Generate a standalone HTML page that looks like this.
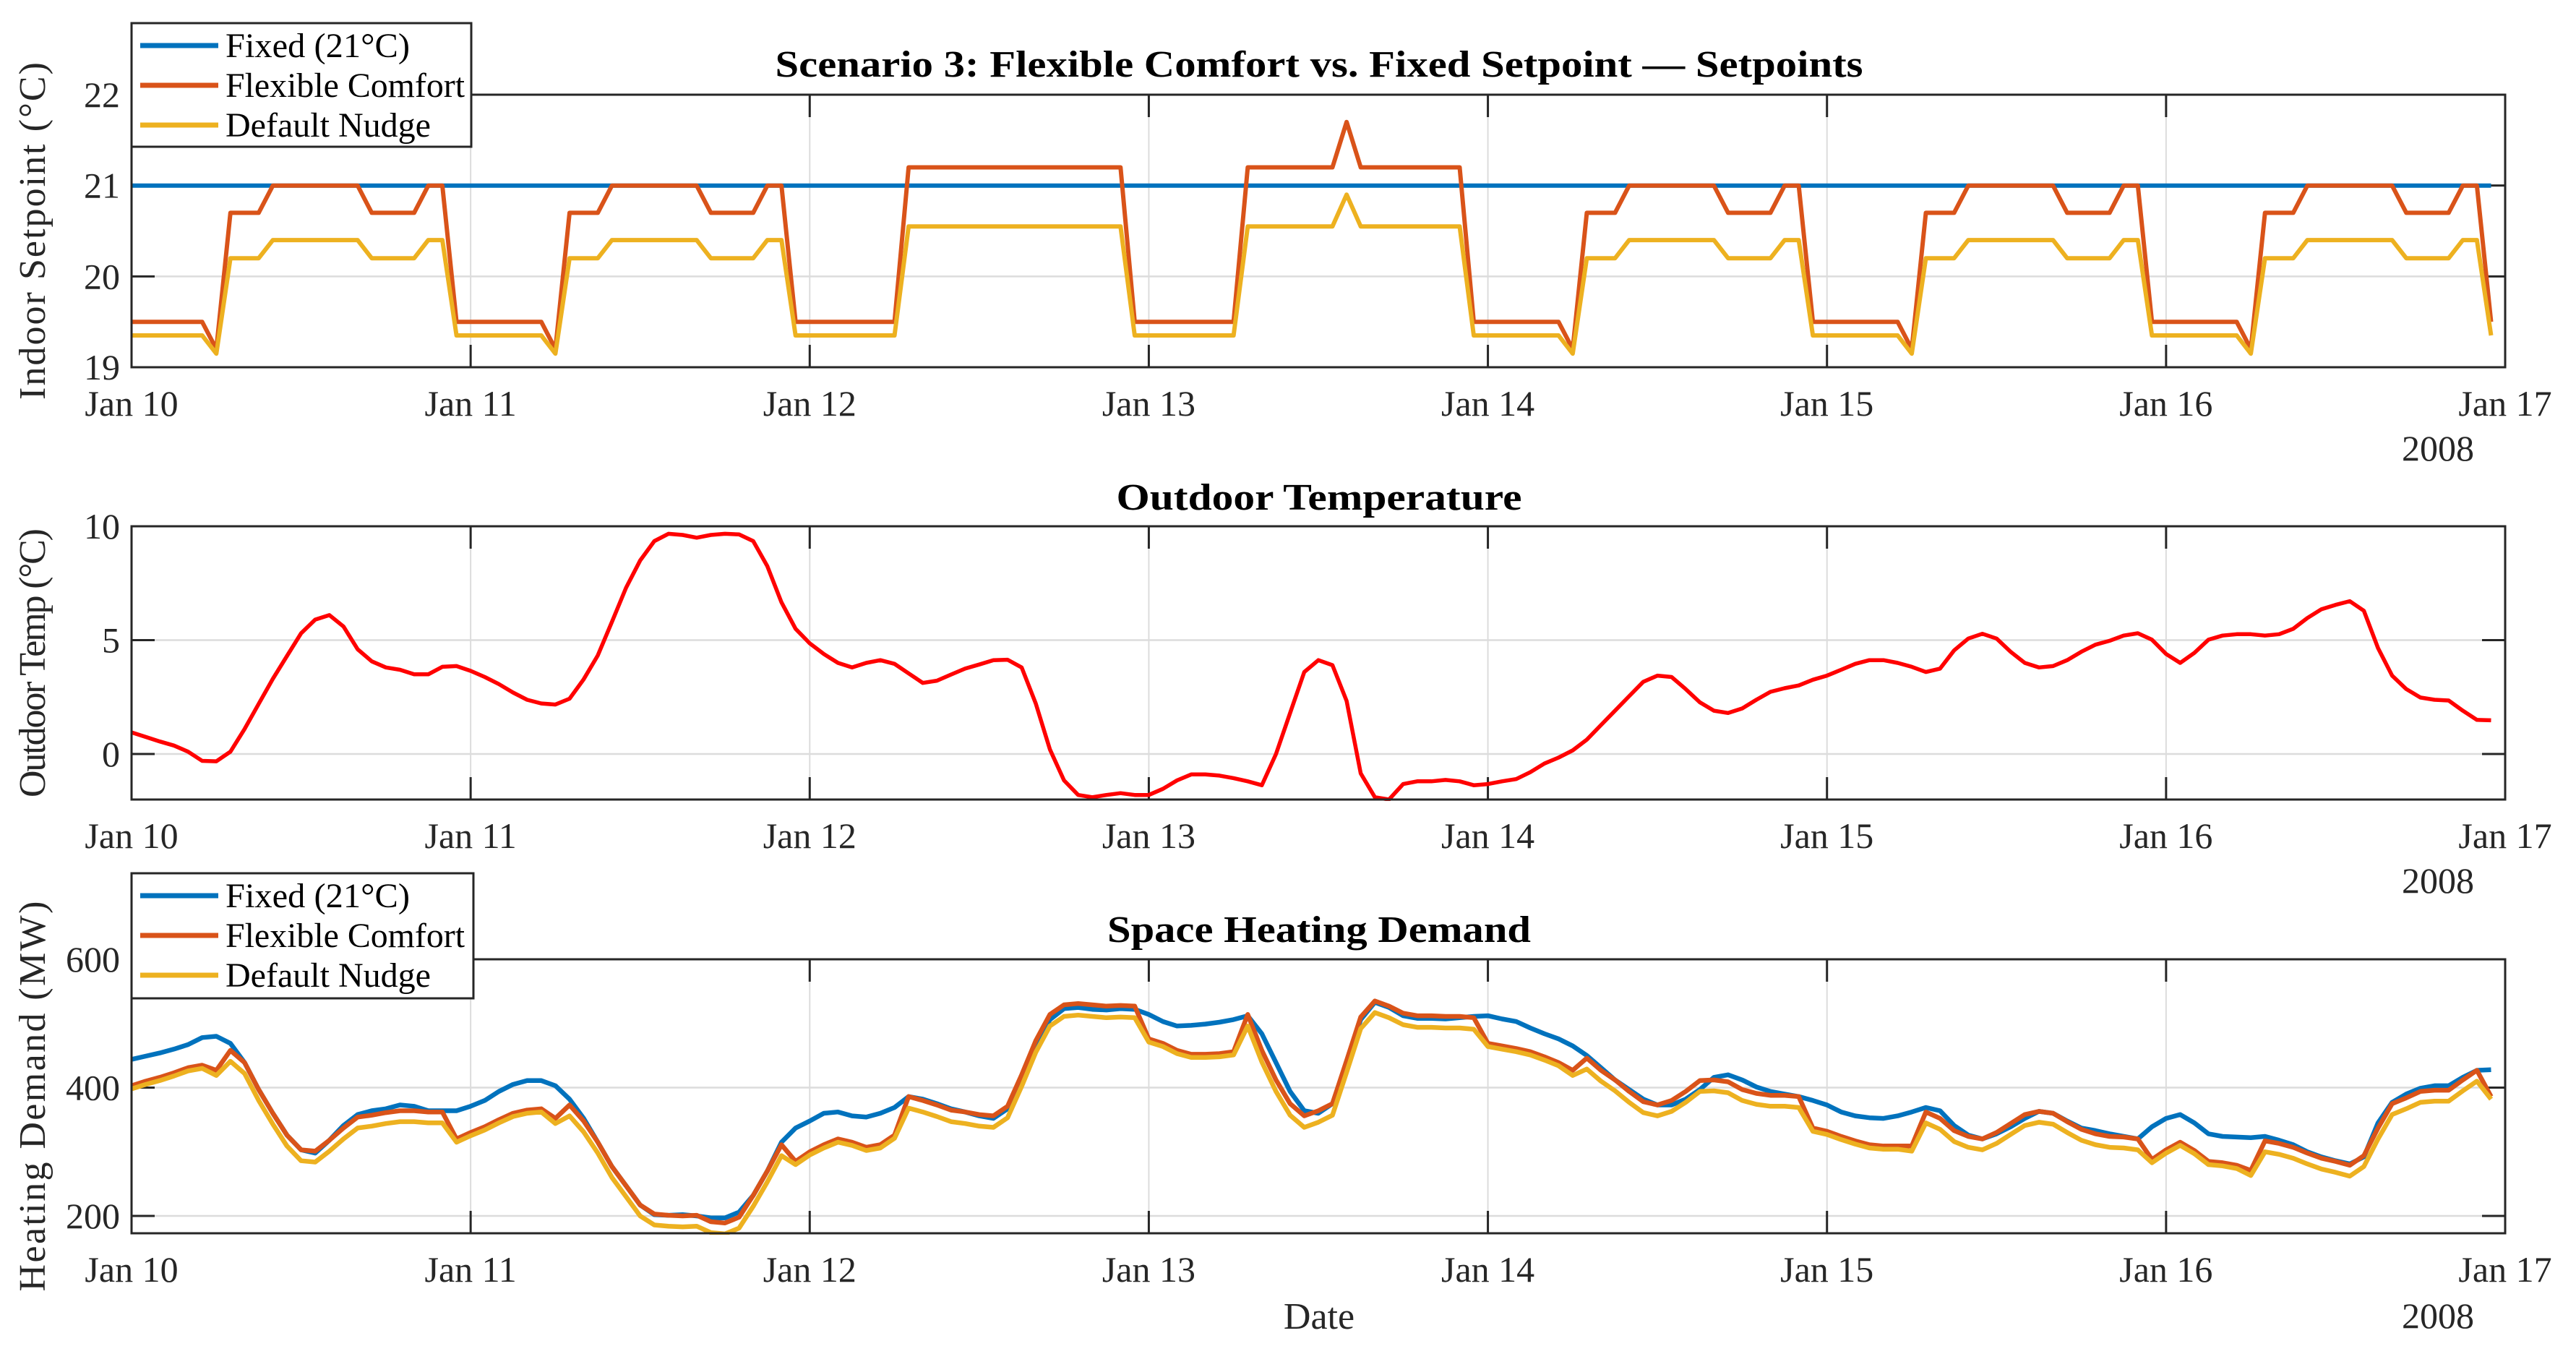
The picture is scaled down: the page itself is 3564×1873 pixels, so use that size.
<!DOCTYPE html>
<html>
<head>
<meta charset="utf-8">
<style>
html,body{margin:0;padding:0;background:#fff;}
svg{display:block;font-family:"Liberation Serif","Times New Roman",serif;}
</style>
</head>
<body>
<svg id="fig" xmlns="http://www.w3.org/2000/svg" width="3564" height="1873" viewBox="0 0 3564 1873"></svg>
<script>
// ---------- data ----------
const dayLabels = ['Jan 10','Jan 11','Jan 12','Jan 13','Jan 14','Jan 15','Jan 16','Jan 17'];
const setpointTicks = [19,20,21,22];
const outdoorTicks = [0,5,10];
const demandTicks = [200,400,600];

const fixedSetpoint = [
21,21,21,21,21,21,21,21,21,21,21,21,21,21,21,21,21,21,21,21,21,21,21,21,
21,21,21,21,21,21,21,21,21,21,21,21,21,21,21,21,21,21,21,21,21,21,21,21,
21,21,21,21,21,21,21,21,21,21,21,21,21,21,21,21,21,21,21,21,21,21,21,21,
21,21,21,21,21,21,21,21,21,21,21,21,21,21,21,21,21,21,21,21,21,21,21,21,
21,21,21,21,21,21,21,21,21,21,21,21,21,21,21,21,21,21,21,21,21,21,21,21,
21,21,21,21,21,21,21,21,21,21,21,21,21,21,21,21,21,21,21,21,21,21,21,21,
21,21,21,21,21,21,21,21,21,21,21,21,21,21,21,21,21,21,21,21,21,21,21,21];
const flexSetpoint = [
19.5,19.5,19.5,19.5,19.5,19.5,19.2,20.7,20.7,20.7,21,21,21,21,21,21,21,20.7,20.7,20.7,20.7,21,21,19.5,
19.5,19.5,19.5,19.5,19.5,19.5,19.2,20.7,20.7,20.7,21,21,21,21,21,21,21,20.7,20.7,20.7,20.7,21,21,19.5,
19.5,19.5,19.5,19.5,19.5,19.5,19.5,21.2,21.2,21.2,21.2,21.2,21.2,21.2,21.2,21.2,21.2,21.2,21.2,21.2,21.2,21.2,21.2,19.5,
19.5,19.5,19.5,19.5,19.5,19.5,19.5,21.2,21.2,21.2,21.2,21.2,21.2,21.2,21.7,21.2,21.2,21.2,21.2,21.2,21.2,21.2,21.2,19.5,
19.5,19.5,19.5,19.5,19.5,19.5,19.2,20.7,20.7,20.7,21,21,21,21,21,21,21,20.7,20.7,20.7,20.7,21,21,19.5,
19.5,19.5,19.5,19.5,19.5,19.5,19.2,20.7,20.7,20.7,21,21,21,21,21,21,21,20.7,20.7,20.7,20.7,21,21,19.5,
19.5,19.5,19.5,19.5,19.5,19.5,19.2,20.7,20.7,20.7,21,21,21,21,21,21,21,20.7,20.7,20.7,20.7,21,21,19.5];
const nudgeSetpoint = [
19.35,19.35,19.35,19.35,19.35,19.35,19.15,20.2,20.2,20.2,20.4,20.4,20.4,20.4,20.4,20.4,20.4,20.2,20.2,20.2,20.2,20.4,20.4,19.35,
19.35,19.35,19.35,19.35,19.35,19.35,19.15,20.2,20.2,20.2,20.4,20.4,20.4,20.4,20.4,20.4,20.4,20.2,20.2,20.2,20.2,20.4,20.4,19.35,
19.35,19.35,19.35,19.35,19.35,19.35,19.35,20.55,20.55,20.55,20.55,20.55,20.55,20.55,20.55,20.55,20.55,20.55,20.55,20.55,20.55,20.55,20.55,19.35,
19.35,19.35,19.35,19.35,19.35,19.35,19.35,20.55,20.55,20.55,20.55,20.55,20.55,20.55,20.9,20.55,20.55,20.55,20.55,20.55,20.55,20.55,20.55,19.35,
19.35,19.35,19.35,19.35,19.35,19.35,19.15,20.2,20.2,20.2,20.4,20.4,20.4,20.4,20.4,20.4,20.4,20.2,20.2,20.2,20.2,20.4,20.4,19.35,
19.35,19.35,19.35,19.35,19.35,19.35,19.15,20.2,20.2,20.2,20.4,20.4,20.4,20.4,20.4,20.4,20.4,20.2,20.2,20.2,20.2,20.4,20.4,19.35,
19.35,19.35,19.35,19.35,19.35,19.35,19.15,20.2,20.2,20.2,20.4,20.4,20.4,20.4,20.4,20.4,20.4,20.2,20.2,20.2,20.2,20.4,20.4,19.35];

const outdoorTemp = [
0.95,0.75,0.55,0.37,0.1,-0.3,-0.32,0.1,1.1,2.2,3.3,4.3,5.3,5.9,6.1,5.6,4.6,4.07,3.8,3.7,3.5,3.5,3.83,3.86,
3.65,3.38,3.07,2.7,2.38,2.22,2.17,2.43,3.28,4.33,5.8,7.3,8.5,9.35,9.67,9.62,9.5,9.62,9.67,9.64,9.35,8.25,6.66,5.5,
4.86,4.39,4.0,3.8,4.0,4.12,3.96,3.54,3.12,3.22,3.49,3.75,3.93,4.12,4.14,3.8,2.22,0.2,-1.16,-1.8,-1.9,-1.8,-1.72,-1.8,
-1.8,-1.53,-1.16,-0.9,-0.9,-0.95,-1.06,-1.2,-1.37,0,1.8,3.6,4.12,3.9,2.33,-0.85,-1.9,-2.0,-1.32,-1.2,-1.2,-1.14,-1.2,-1.37,
-1.32,-1.2,-1.1,-0.8,-0.42,-0.16,0.16,0.63,1.27,1.9,2.54,3.17,3.44,3.38,2.85,2.27,1.9,1.8,2.0,2.38,2.73,2.89,3.01,3.26,
3.44,3.7,3.96,4.12,4.12,4.0,3.83,3.6,3.75,4.55,5.07,5.28,5.07,4.49,4.0,3.8,3.86,4.12,4.49,4.8,4.97,5.2,5.3,5.02,
4.39,4.0,4.44,5.02,5.2,5.26,5.26,5.2,5.26,5.5,5.97,6.36,6.55,6.71,6.29,4.65,3.44,2.85,2.48,2.38,2.35,1.9,1.5,1.48];

const fixedDemand = [
444,449,454,460,467,478,480,469,439,397,360,326,303,298,318,341,358,364,367,373,371,364,364,364,
371,380,394,405,411,411,403,382,352,315,277,247,217,202,201,202,200,197,197,206,232,270,315,337,
348,360,362,356,354,360,369,386,382,375,367,362,356,352,367,412,465,506,523,525,522,521,523,522,
514,503,496,497,499,502,506,512,484,439,394,364,360,375,439,506,533,525,512,508,508,507,509,511,
512,507,503,493,484,476,465,450,431,412,397,382,373,373,382,397,416,420,412,401,394,390,386,380,
373,362,356,353,352,356,362,369,364,341,326,320,328,339,352,363,360,348,337,333,328,324,320,339,
352,358,345,328,324,323,322,324,318,311,300,292,286,281,292,345,377,390,399,403,403,416,427,428];
const flexDemand = [
403,410,416,423,431,435,427,458,439,397,360,326,303,301,318,337,354,357,361,364,364,362,362,320,
330,339,350,360,365,367,352,373,348,315,277,247,217,203,201,200,201,191,189,198,232,270,311,285,
300,311,320,315,307,311,326,386,380,373,365,362,358,356,371,420,473,514,529,531,529,527,528,527,
476,469,458,452,452,453,456,514,458,412,375,356,364,375,442,510,535,527,516,512,512,511,511,509,
469,465,461,456,448,439,427,446,427,412,394,378,373,380,394,411,412,409,397,391,388,388,386,337,
332,324,317,311,309,309,309,362,352,333,324,320,330,344,358,363,360,347,335,328,324,323,320,288,
303,315,302,285,283,279,271,317,313,307,298,290,285,279,294,337,375,384,394,396,396,412,427,386];
const nudgeDemand = [
398,405,411,418,426,430,419,441,422,380,343,309,286,284,301,320,337,340,344,347,347,345,345,315,
325,334,345,355,360,362,344,356,331,298,260,230,200,186,184,183,184,174,172,181,215,253,294,280,
295,306,315,310,302,306,321,368,362,355,347,344,340,338,353,402,455,496,511,513,511,509,510,509,
471,464,453,447,447,448,451,496,440,394,357,338,346,357,424,492,517,509,498,494,494,493,493,491,
464,460,456,451,443,434,419,429,410,395,377,361,356,363,377,394,395,392,380,374,371,371,369,332,
327,319,312,306,304,304,301,345,335,316,307,303,313,327,341,346,343,330,318,311,307,306,303,283,
298,310,297,280,278,274,263,300,296,290,281,273,268,262,277,320,358,367,377,379,379,395,410,382];

// ---------- layout ----------
const NS = 'http://www.w3.org/2000/svg';
const svg = document.getElementById('fig');
const X0 = 182, X1 = 3466, NH = 168;
const C_BLUE = '#0072BD', C_ORANGE = '#D95319', C_YELLOW = '#EDB120';
const panels = [
  {key:'setpoint', top:131, bottom:508, min:19, max:22, ticks:setpointTicks, title:'Scenario 3: Flexible Comfort vs. Fixed Setpoint \u2014 Setpoints', titleY:106, titleW:1505, ylabel:'Indoor Setpoint (\u00B0C)', ylabelLen:467, tickY:575, yearY:637},
  {key:'outdoor', top:728, bottom:1106, min:-2, max:10, ticks:outdoorTicks, title:'Outdoor Temperature', titleY:705, titleW:561, ylabel:'Outdoor Temp (\u00B0C)', ylabelLen:372, tickY:1173, yearY:1235},
  {key:'demand', top:1327, bottom:1706, min:173, max:600, ticks:demandTicks, title:'Space Heating Demand', titleY:1303, titleW:586, ylabel:'Heating Demand (MW)', ylabelLen:540, tickY:1773, yearY:1837}
];
function xScale(h){ return X0 + h*(X1-X0)/NH; }
function yScale(v,p){ return p.top + (p.max - v)/(p.max - p.min)*(p.bottom - p.top); }
function el(tag, attrs, parent){
  const e = document.createElementNS(NS, tag);
  for (const k in attrs) e.setAttribute(k, attrs[k]);
  (parent||svg).appendChild(e);
  return e;
}

function drawPanel(p){
  const g = el('g', {});
  
  
  const bg = el('rect', {x:X0, y:p.top, width:X1-X0, height:p.bottom-p.top, fill:'#fff'}, g);
  
  
  for (let d=1; d<dayLabels.length-1; d++){
    const x = xScale(d*24);
    const gl = el('line', {x1:x, x2:x, y1:p.top, y2:p.bottom, stroke:'#dcdcdc', 'stroke-width':2}, g);
    
    
  }
  p.ticks.forEach(t=>{
    const y = yScale(t,p);
    if (y > p.top+1 && y < p.bottom-1){
      const gl = el('line', {x1:X0, x2:X1, y1:y, y2:y, stroke:'#dcdcdc', 'stroke-width':2.5}, g);
      
      
    }
    const lt = el('line', {x1:X0, x2:X0+32, y1:y, y2:y, stroke:'#262626', 'stroke-width':3}, g);
    
    
    const rt = el('line', {x1:X1-32, x2:X1, y1:y, y2:y, stroke:'#262626', 'stroke-width':3}, g);
    
    
    const tl = el('text', {x:166, y:y+17, 'text-anchor':'end', 'font-size':50, fill:'#262626'}, g);
    tl.textContent = String(t);
    
    
  });
  dayLabels.forEach((lab,d)=>{
    const x = xScale(d*24);
    if (d>0 && d<dayLabels.length-1){
      const bt = el('line', {x1:x, x2:x, y1:p.bottom-31, y2:p.bottom, stroke:'#262626', 'stroke-width':3}, g);
      
      
      const tt = el('line', {x1:x, x2:x, y1:p.top, y2:p.top+31, stroke:'#262626', 'stroke-width':3}, g);
      
      
    }
    const tl = el('text', {x:x, y:p.tickY, 'text-anchor':'middle', 'font-size':50, fill:'#262626'}, g);
    tl.textContent = lab;
    
    
  });
  const yr = el('text', {x:3373, y:p.yearY, 'text-anchor':'middle', 'font-size':50, fill:'#262626'}, g);
  yr.textContent = '2008';
  
  
  const ti = el('text', {x:1825, y:p.titleY, 'text-anchor':'middle', 'font-size':52, 'font-weight':'bold', fill:'#000', textLength:p.titleW, lengthAdjust:'spacingAndGlyphs'}, g);
  ti.textContent = p.title;
  
  
  const cy = (p.top + p.bottom)/2;
  const yl = el('text', {x:0, y:0, 'text-anchor':'middle', 'font-size':52, fill:'#262626', transform:'translate(62,'+cy+') rotate(-90)', textLength:p.ylabelLen, lengthAdjust:'spacing'}, g);
  yl.textContent = p.ylabel;
  
  
  const cp = el('clipPath', {id:'clip-'+p.key}, g);
  el('rect', {x:X0, y:p.top-2, width:X1-X0, height:p.bottom-p.top+4}, cp);
  return g;
}

function drawSeries(g, p, values, color, width, name){
  let d = '';
  values.forEach((v,i)=>{ d += (i? 'L':'M') + xScale(i).toFixed(1) + ',' + yScale(v,p).toFixed(1); });
  const path = el('path', {d:d, fill:'none', stroke:color, 'stroke-width':width, 'stroke-linejoin':'round', 'clip-path':'url(#clip-'+p.key+')'}, g);
  
  
}

function drawFrame(g, p){
  const f = el('rect', {x:X0, y:p.top, width:X1-X0, height:p.bottom-p.top, fill:'none', stroke:'#262626', 'stroke-width':3}, g);
  
  
}

function drawLegend(x, y, w, h, rows){
  const g = el('g', {});
  
  
  const box = el('rect', {x:x, y:y, width:w, height:h, fill:'#fff', stroke:'#262626', 'stroke-width':3}, g);
  
  
  rows.forEach((r,i)=>{
    const ry = y + 31 + i*55;
    const ln = el('line', {x1:x+12, x2:x+120, y1:ry, y2:ry, stroke:r[1], 'stroke-width':7}, g);
    
    
    const tx = el('text', {x:x+130, y:ry+16, 'font-size':48, fill:'#000', textLength:r[2], lengthAdjust:'spacingAndGlyphs'}, g);
    tx.textContent = r[0];
    
    
  });
}

const g1 = drawPanel(panels[0]);
drawSeries(g1, panels[0], fixedSetpoint, C_BLUE, 6, 'fixed-setpoint-line');
drawSeries(g1, panels[0], flexSetpoint, C_ORANGE, 6, 'flexible-setpoint-line');
drawSeries(g1, panels[0], nudgeSetpoint, C_YELLOW, 6, 'nudge-setpoint-line');
drawFrame(g1, panels[0]);

const g2 = drawPanel(panels[1]);
drawSeries(g2, panels[1], outdoorTemp, '#FF0000', 5.5, 'outdoor-temp-line');
drawFrame(g2, panels[1]);

const g3 = drawPanel(panels[2]);
drawSeries(g3, panels[2], fixedDemand, C_BLUE, 6.5, 'fixed-demand-line');
drawSeries(g3, panels[2], flexDemand, C_ORANGE, 6.5, 'flexible-demand-line');
drawSeries(g3, panels[2], nudgeDemand, C_YELLOW, 6.5, 'nudge-demand-line');
drawFrame(g3, panels[2]);

const rowsL = [['Fixed (21\u00B0C)', C_BLUE, 255], ['Flexible Comfort', C_ORANGE, 331], ['Default Nudge', C_YELLOW, 284]];
drawLegend(182, 32, 470, 171, rowsL);
drawLegend(182, 1208, 473, 173, rowsL);

const xt = el('text', {x:1825, y:1838, 'text-anchor':'middle', 'font-size':52, fill:'#262626'});
xt.textContent = 'Date';


</script>
</body>
</html>
